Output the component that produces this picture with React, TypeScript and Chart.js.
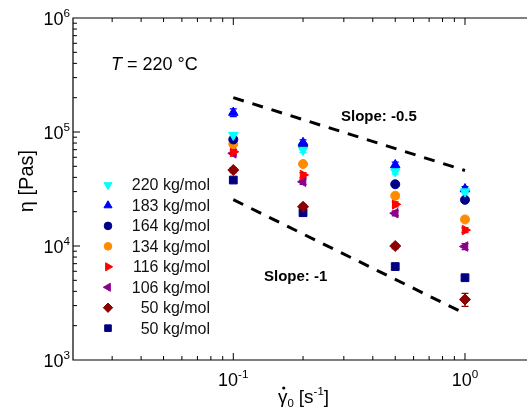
import React, { useEffect, useRef } from 'react';
import { Chart, registerables } from 'chart.js';
import { drawPoint } from 'chart.js/helpers';

Chart.register(...registerables);

// ---- data ----
const shearRates = [0.1, 0.2, 0.5, 1.0];
const seriesLabels = ['220 kg/mol', '183 kg/mol', '164 kg/mol', '134 kg/mol', '116 kg/mol', '106 kg/mol', '50 kg/mol', '50 kg/mol'];
const eta220 = [9.4e4, 6.95e4, 4.5e4, 3.0e4];
const eta183 = [1.48e5, 8.05e4, 5.14e4, 3.16e4];
const eta164 = [8.6e4, 7.6e4, 3.48e4, 2.54e4];
const eta134 = [7.85e4, 5.24e4, 2.76e4, 1.71e4];
const eta116 = [6.7e4, 4.2e4, 2.32e4, 1.38e4];
const eta106 = [6.5e4, 3.66e4, 1.94e4, 9.9e3];
const eta50a = [4.64e4, 2.21e4, 1.0e4, 3.4e3];
const eta50b = [3.79e4, 1.96e4, 6.6e3, 5.27e3];
// relative error (fraction of value)
const err220 = [0.05, 0.05, 0.05, 0.05];
const err183 = [0.08, 0.06, 0.06, 0.05];
const err164 = [0.04, 0.04, 0.04, 0.05];
const err134 = [0.04, 0.04, 0.04, 0.04];
const err116 = [0.05, 0.05, 0.05, 0.05];
const err106 = [0.05, 0.05, 0.05, 0.06];
const err50a = [0.05, 0.05, 0.05, 0.13];
const err50b = [0.04, 0.04, 0.04, 0.05];

const slopeX = [0.1, 1.0];
const slopeHalf = [2.0e5, 4.6e4];
const slopeOne = [2.55e4, 2.55e3];

const xMajorTicks = [0.1, 1];
const xTickExponents = ['-1', '0'];
const yMajorTicks = [1e3, 1e4, 1e5, 1e6];
const yTickExponents = ['3', '4', '5', '6'];

const FONT = '"Liberation Sans", Arial, Helvetica, sans-serif';

type S = { label: string; data: number[]; err: number[]; color: string; style: string; rotation: number; radius: number };
const series: S[] = [
  { label: seriesLabels[0], data: eta220, err: err220, color: '#00FFFF', style: 'triangle', rotation: 180, radius: 5.5 },
  { label: seriesLabels[1], data: eta183, err: err183, color: '#0000FF', style: 'triangle', rotation: 0, radius: 5.5 },
  { label: seriesLabels[2], data: eta164, err: err164, color: '#00008B', style: 'circle', rotation: 0, radius: 4.5 },
  { label: seriesLabels[3], data: eta134, err: err134, color: '#FF8C00', style: 'circle', rotation: 0, radius: 4.5 },
  { label: seriesLabels[4], data: eta116, err: err116, color: '#FF0000', style: 'triangle', rotation: 90, radius: 5.5 },
  { label: seriesLabels[5], data: eta106, err: err106, color: '#8B008B', style: 'triangle', rotation: 270, radius: 5.5 },
  { label: seriesLabels[6], data: eta50a, err: err50a, color: '#8B0000', style: 'rectRot', rotation: 0, radius: 5.5 },
  { label: seriesLabels[7], data: eta50b, err: err50b, color: '#000080', style: 'rect', rotation: 0, radius: 5.5 },
];

function drawPow(ctx: CanvasRenderingContext2D, base: string, exp: string, x: number, y: number, align: 'center' | 'right', size: number) {
  ctx.save();
  ctx.textAlign = 'left';
  ctx.textBaseline = 'alphabetic';
  ctx.font = `${size}px ${FONT}`;
  const wb = ctx.measureText(base).width;
  ctx.font = `${size * 0.65}px ${FONT}`;
  const we = ctx.measureText(exp).width;
  const total = wb + we;
  const x0 = align === 'center' ? x - total / 2 : x - total;
  ctx.font = `${size}px ${FONT}`;
  ctx.fillText(base, x0, y);
  ctx.font = `${size * 0.65}px ${FONT}`;
  ctx.fillText(exp, x0 + wb, y - size * 0.45);
  ctx.restore();
}

const decor = {
  id: 'decor',
  beforeDatasetsDraw(chart: any) {
    const ctx: CanvasRenderingContext2D = chart.ctx;
    const ys = chart.scales.y;
    series.forEach((s, i) => {
      const meta = chart.getDatasetMeta(i);
      ctx.save();
      ctx.strokeStyle = s.color;
      ctx.lineWidth = 1.3;
      s.data.forEach((v, j) => {
        const el = meta.data[j];
        if (!el) return;
        const x = el.x;
        const y1 = ys.getPixelForValue(v * (1 + s.err[j]));
        const y2 = ys.getPixelForValue(v * (1 - s.err[j]));
        ctx.beginPath();
        ctx.moveTo(x, y1); ctx.lineTo(x, y2);
        ctx.moveTo(x - 3.5, y1); ctx.lineTo(x + 3.5, y1);
        ctx.moveTo(x - 3.5, y2); ctx.lineTo(x + 3.5, y2);
        ctx.stroke();
      });
      ctx.restore();
    });
  },
  afterDraw(chart: any) {
    const ctx: CanvasRenderingContext2D = chart.ctx;
    const { left, right, top, bottom } = chart.chartArea;
    const xs = chart.scales.x;
    const ys = chart.scales.y;
    ctx.save();
    ctx.strokeStyle = '#000';
    ctx.lineWidth = 1.2;
    // frame: left, bottom, top
    ctx.beginPath();
    ctx.moveTo(right + 2, top); ctx.lineTo(left, top); ctx.lineTo(left, bottom); ctx.lineTo(right + 2, bottom);
    ctx.stroke();
    // ticks
    ctx.lineWidth = 1;
    ctx.beginPath();
    for (let e = -2; e <= 0; e++) {
      for (let k = 1; k <= 9; k++) {
        const v = k * Math.pow(10, e);
        const px = xs.getPixelForValue(v);
        if (px < left + 1 || px > right - 1) continue;
        const len = k === 1 ? 7 : 4;
        ctx.moveTo(px, bottom); ctx.lineTo(px, bottom - len);
        ctx.moveTo(px, top); ctx.lineTo(px, top + len);
      }
    }
    for (let e = 3; e <= 6; e++) {
      for (let k = 1; k <= 9; k++) {
        const v = k * Math.pow(10, e);
        const py = ys.getPixelForValue(v);
        if (py < top + 1 || py > bottom - 1) continue;
        const len = k === 1 ? 7 : 4;
        ctx.moveTo(left, py); ctx.lineTo(left + len, py);
      }
    }
    ctx.stroke();
    // tick labels
    ctx.fillStyle = '#000';
    xMajorTicks.forEach((v, i) => {
      drawPow(ctx, '10', xTickExponents[i], xs.getPixelForValue(v), bottom + 26, 'center', 18);
    });
    yMajorTicks.forEach((v, i) => {
      drawPow(ctx, '10', yTickExponents[i], left - 3, ys.getPixelForValue(v) + 7, 'right', 18);
    });
    // y title
    ctx.save();
    ctx.translate(33, (top + bottom) / 2 - 8);
    ctx.rotate(-Math.PI / 2);
    ctx.font = `20px ${FONT}`;
    ctx.textAlign = 'center';
    ctx.textBaseline = 'alphabetic';
    ctx.fillText('η [Pas]', 0, 0);
    ctx.restore();
    // x title: gamma-dot_0 [s^-1]
    {
      const size = 19;
      const base = 403;
      let x = 278;
      ctx.textAlign = 'left';
      ctx.textBaseline = 'alphabetic';
      ctx.font = `${size}px ${FONT}`;
      const wg = ctx.measureText('γ').width;
      ctx.fillText('γ', x, base);
      ctx.beginPath();
      ctx.arc(x + wg / 2 + 1, base - 15, 1.6, 0, Math.PI * 2);
      ctx.fill();
      x += wg;
      ctx.font = `${size * 0.6}px ${FONT}`;
      ctx.fillText('0', x, base + 4);
      x += ctx.measureText('0').width + 5;
      ctx.font = `${size}px ${FONT}`;
      ctx.fillText('[s', x, base);
      x += ctx.measureText('[s').width;
      ctx.font = `${size * 0.6}px ${FONT}`;
      ctx.fillText('-1', x, base - 8);
      x += ctx.measureText('-1').width;
      ctx.font = `${size}px ${FONT}`;
      ctx.fillText(']', x, base);
    }
    // annotations
    ctx.textAlign = 'left';
    ctx.textBaseline = 'alphabetic';
    ctx.font = `italic 18px ${FONT}`;
    ctx.fillText('T', 111, 70);
    const wt = ctx.measureText('T').width;
    ctx.font = `18px ${FONT}`;
    ctx.fillText(' = 220 °C', 111 + wt, 70);
    ctx.font = `bold 15px ${FONT}`;
    ctx.fillText('Slope: -0.5', 341, 121);
    ctx.fillText('Slope: -1', 264, 281);
    // legend
    series.forEach((s, i) => {
      const y = 185 + i * 20.45;
      ctx.fillStyle = s.color;
      ctx.strokeStyle = s.color;
      drawPoint(ctx, { pointStyle: s.style as any, rotation: s.rotation, radius: s.radius * 0.85, borderWidth: 1 } as any, 108, y);
      ctx.fillStyle = '#111';
      ctx.font = `16px ${FONT}`;
      ctx.textAlign = 'right';
      ctx.textBaseline = 'middle';
      ctx.fillText(s.label, 210, y + 1);
    });
    ctx.restore();
  },
};

export default function App() {
  const ref = useRef<HTMLCanvasElement | null>(null);
  useEffect(() => {
    document.body.style.margin = '0';
    const canvas = ref.current!;
    const datasets: any[] = series.map((s) => ({
      label: s.label,
      data: shearRates.map((x, j) => ({ x, y: s.data[j] })),
      backgroundColor: s.color,
      borderColor: s.color,
      pointStyle: s.style,
      rotation: s.rotation,
      pointRadius: s.radius,
      pointBorderWidth: 1,
      showLine: false,
    }));
    datasets.push({
      label: 'slope -0.5',
      data: slopeX.map((x, j) => ({ x, y: slopeHalf[j] })),
      borderColor: '#000', borderWidth: 3, borderDash: [11, 9], pointRadius: 0, showLine: true, fill: false,
    });
    datasets.push({
      label: 'slope -1',
      data: slopeX.map((x, j) => ({ x, y: slopeOne[j] })),
      borderColor: '#000', borderWidth: 3, borderDash: [11, 9], pointRadius: 0, showLine: true, fill: false,
    });
    const chart = new Chart(canvas, {
      type: 'scatter',
      data: { datasets },
      options: {
        animation: false,
        responsive: false,
        devicePixelRatio: 1,
        layout: { autoPadding: false, padding: { left: 73, top: 18, right: 0, bottom: 49 } },
        plugins: { legend: { display: false }, tooltip: { enabled: false } },
        scales: {
          x: { type: 'logarithmic', min: 0.02033, max: 1.852, display: false },
          y: { type: 'logarithmic', min: 1e3, max: 1e6, display: false },
        },
      },
      plugins: [decor],
    });
    return () => chart.destroy();
  }, []);
  return (
    <div style={{ position: 'absolute', left: 0, top: 0, width: 527, height: 409, background: '#fff' }}>
      <canvas ref={ref} width={527} height={409} style={{ display: 'block' }} />
    </div>
  );
}
